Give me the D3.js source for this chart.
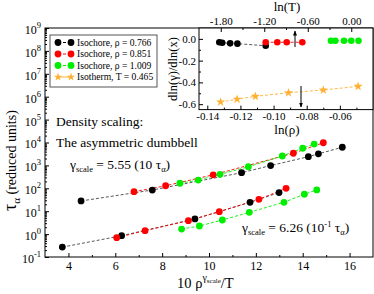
<!DOCTYPE html>
<html>
<head>
<meta charset="utf-8">
<script src="https://cdn.jsdelivr.net/npm/d3@7"></script>
<style>
  body { margin: 0; background: #fff; }
  svg { display: block; font-family: "Liberation Serif", "DejaVu Serif", serif; }
</style>
</head>
<body>
<div id="chart"></div>
<script>
const width = 374;
const height = 294;

// main panel data: 10*rho^gamma/T vs tau_alpha
const upperBlackX = [4.54, 7.58, 11.39, 12.63, 14.24, 14.67, 15.69];
const upperBlackY = [28, 84, 480, 980, 2400, 3200, 6200];
const upperRedX = [6.80, 8.15, 10.18, 13.60, 14.88];
const upperRedY = [71, 129, 389, 3390, 9770];
const upperGreenX = [8.76, 9.54, 10.47, 11.68, 13.13, 14.0, 14.49];
const upperGreenY = [166, 229, 407, 871, 2570, 5620, 8510];

const lowerBlackX = [3.74, 6.27, 9.40, 11.75, 12.99];
const lowerBlackY = [0.27, 0.85, 4.6, 24.5, 65];
const lowerRedX = [6.06, 7.27, 9.12, 10.44, 12.13, 13.29];
const lowerRedY = [0.70, 1.41, 3.85, 9.5, 33, 100];
const lowerGreenX = [8.83, 9.59, 10.57, 11.72, 13.2, 14.07, 14.6];
const lowerGreenY = [1.66, 2.26, 4.13, 8.9, 24.5, 55, 85];

// inset data
const insetBlackLnT = [-1.82, -1.78, -1.67, -1.57, -1.18];
const insetBlackSlope = [-0.031, -0.035, -0.041, -0.044, -0.063];
const insetRedLnT = [-1.18, -1.02, -0.89, -0.675];
const insetRedSlope = [-0.031, -0.031, -0.031, -0.031];
const insetGreenLnT = [-0.28, -0.22, -0.10, 0.0, 0.10];
const insetGreenSlope = [-0.017, -0.017, -0.017, -0.017, -0.017];
const insetOrangeLnRho = [-0.132, -0.122, -0.111, -0.091, -0.070, -0.049];
const insetOrangeSlope = [-0.580, -0.555, -0.528, -0.495, -0.470, -0.436];

const legendLabels = ["Isochore, \u03c1 = 0.766", "Isochore, \u03c1 = 0.851", "Isochore, \u03c1 = 1.009", "Isotherm, T = 0.465"];
const xTicks = [4, 6, 8, 10, 12, 14, 16];
const yTicks = [1e-1, 1e0, 1e1, 1e2, 1e3, 1e4, 1e5, 1e6, 1e7, 1e8, 1e9];

const BLACK = "#000000", RED = "#ff0000", GREEN = "#00ee00", ORANGE = "#ffb030";

const svg = d3.select("#chart").append("svg")
  .attr("width", width)
  .attr("height", height);

// ---- main panel ----
const m = { left: 45, right: 373, top: 28, bottom: 257 };

const x = d3.scaleLinear().domain([3, 17]).range([m.left, m.right]);
const y = d3.scaleLog().domain([0.1, 1e9]).range([m.bottom, m.top]);

svg.append("rect")
  .attr("x", m.left).attr("y", m.top)
  .attr("width", m.right - m.left).attr("height", m.bottom - m.top)
  .attr("fill", "none").attr("stroke", "#000").attr("stroke-width", 1);

// minor log ticks
const yMinor = [];
for (let e = -1; e < 9; e++) for (let k = 2; k <= 9; k++) yMinor.push(k * Math.pow(10, e));

svg.append("g")
  .attr("transform", `translate(${m.left},0)`)
  .call(d3.axisLeft(y).tickValues(yMinor).tickSize(-2).tickFormat(""))
  .call(g => g.select(".domain").remove());

const yAxis = svg.append("g")
  .attr("transform", `translate(${m.left},0)`)
  .call(d3.axisLeft(y).tickValues(yTicks).tickSize(-4).tickPadding(4))
  .call(g => g.select(".domain").remove());

yAxis.selectAll(".tick text")
  .attr("font-family", "Liberation Serif").attr("font-size", 12).attr("fill", "#000")
  .each(function(d) {
    const t = d3.select(this);
    t.text(null).attr("dy", "0.45em");
    t.append("tspan").text("10");
    t.append("tspan").attr("dy", -6).attr("font-size", 8.5).text(Math.round(Math.log10(d)));
  });

svg.append("g")
  .attr("transform", `translate(0,${m.bottom})`)
  .call(d3.axisBottom(x).tickValues([5, 7, 9, 11, 13, 15]).tickSize(-2).tickFormat(""))
  .call(g => g.select(".domain").remove());

svg.append("g")
  .attr("transform", `translate(0,${m.bottom})`)
  .call(d3.axisBottom(x).tickValues(xTicks).tickSize(-4).tickPadding(4))
  .call(g => g.select(".domain").remove())
  .call(g => g.selectAll(".tick text")
    .attr("font-family", "Liberation Serif").attr("font-size", 12).attr("fill", "#000"));

svg.selectAll(".tick line").attr("stroke", "#000");

// series
const mainSeries = [
  { xs: upperBlackX, ys: upperBlackY, c: BLACK },
  { xs: upperRedX, ys: upperRedY, c: RED },
  { xs: upperGreenX, ys: upperGreenY, c: GREEN },
  { xs: lowerBlackX, ys: lowerBlackY, c: BLACK },
  { xs: lowerRedX, ys: lowerRedY, c: RED },
  { xs: lowerGreenX, ys: lowerGreenY, c: GREEN }
];

const line = d3.line().x(d => x(d[0])).y(d => y(d[1]));

mainSeries.forEach(s => {
  const pts = s.xs.map((v, i) => [v, s.ys[i]]);
  svg.append("path")
    .attr("d", line(pts))
    .attr("fill", "none")
    .attr("stroke", s.c === BLACK ? "#444" : s.c)
    .attr("stroke-width", 0.9)
    .attr("stroke-dasharray", "3,2");
});
mainSeries.forEach(s => {
  svg.selectAll(null)
    .data(s.xs.map((v, i) => [v, s.ys[i]]))
    .join("circle")
    .attr("cx", d => x(d[0]))
    .attr("cy", d => y(d[1]))
    .attr("r", 3.4)
    .attr("fill", s.c);
});

// legend
const leg = svg.append("g");
leg.append("rect")
  .attr("x", 50).attr("y", 35).attr("width", 107).attr("height", 52)
  .attr("fill", "#fff").attr("stroke", "#555").attr("stroke-width", 1);
const legColors = [BLACK, RED, GREEN, ORANGE];
legendLabels.forEach((lab, i) => {
  const ly = 42.5 + i * 11.5;
  leg.append("line")
    .attr("x1", 58).attr("x2", 71).attr("y1", ly).attr("y2", ly)
    .attr("stroke", legColors[i]).attr("stroke-width", 1)
    .attr("stroke-dasharray", i === 3 ? null : "3,2");
  [58, 71].forEach(lx => {
    if (i === 3) {
      leg.append("path")
        .attr("d", d3.symbol(d3.symbolStar, 22)())
        .attr("transform", `translate(${lx},${ly})`)
        .attr("fill", ORANGE);
    } else {
      leg.append("circle").attr("cx", lx).attr("cy", ly).attr("r", 3.4).attr("fill", legColors[i]);
    }
  });
  leg.append("text")
    .attr("x", 77).attr("y", ly + 3.3)
    .attr("font-size", 9.6)
    .text(lab);
});

// annotations
svg.append("text").attr("x", 56).attr("y", 126).attr("font-size", 13.5).text("Density scaling:");
svg.append("text").attr("x", 56).attr("y", 147).attr("font-size", 13.5).text("The asymmetric dumbbell");

const ann1 = svg.append("text").attr("x", 70).attr("y", 169).attr("font-size", 13.5);
ann1.append("tspan").text("\u03b3");
ann1.append("tspan").attr("dy", 3).attr("font-size", 8.5).text("scale");
ann1.append("tspan").attr("dy", -3).text(" = 5.55 (10 \u03c4");
ann1.append("tspan").attr("dy", 3).attr("font-size", 8.5).text("\u03b1");
ann1.append("tspan").attr("dy", -3).text(")");

const ann2 = svg.append("text").attr("x", 242).attr("y", 232).attr("font-size", 13.5);
ann2.append("tspan").text("\u03b3");
ann2.append("tspan").attr("dy", 3).attr("font-size", 8.5).text("scale");
ann2.append("tspan").attr("dy", -3).text(" = 6.26 (10");
ann2.append("tspan").attr("dy", -5).attr("font-size", 8.5).text("-1");
ann2.append("tspan").attr("dy", 5).text(" \u03c4");
ann2.append("tspan").attr("dy", 3).attr("font-size", 8.5).text("\u03b1");
ann2.append("tspan").attr("dy", -3).text(")");

// axis titles
const yTitle = svg.append("text")
  .attr("transform", "translate(16,211) rotate(-90)")
  .attr("font-size", 14);
yTitle.append("tspan").attr("font-size", 18).text("\u03c4");
yTitle.append("tspan").attr("dy", 4).attr("font-size", 11).text("\u03b1");
yTitle.append("tspan").attr("dy", -4).text(" (reduced units)");

const xTitle = svg.append("text").attr("x", 177).attr("y", 288).attr("font-size", 14.5);
xTitle.append("tspan").text("10 \u03c1");
xTitle.append("tspan").attr("dy", -7).attr("font-size", 10).text("\u03b3");
xTitle.append("tspan").attr("dy", 2).attr("font-size", 7).text("scale");
xTitle.append("tspan").attr("dy", 5).text("/T");

// ---- inset ----
const n = { left: 199, right: 373, top: 28, bottom: 109.6 };
const xT = d3.scaleLinear().domain([-2.1, 0.3]).range([n.left, n.right]);
const xR = d3.scaleLinear().domain([-0.145, -0.04]).range([n.left, n.right]);
const yI = d3.scaleLinear().domain([-0.65, 0.1]).range([n.bottom, n.top]);

svg.append("rect")
  .attr("x", n.left).attr("y", n.top)
  .attr("width", n.right - n.left).attr("height", n.bottom - n.top)
  .attr("fill", "#fff").attr("stroke", "#000").attr("stroke-width", 1);

const inset = svg.append("g");
const styleText = g => g.selectAll(".tick text")
  .attr("font-family", "Liberation Serif").attr("font-size", 11).attr("fill", "#000");

inset.append("g").attr("transform", `translate(${n.left},0)`)
  .call(d3.axisLeft(yI).tickValues([-0.5, -0.3, -0.1]).tickSize(-2).tickFormat(""))
  .call(g => g.select(".domain").remove());
inset.append("g").attr("transform", `translate(${n.left},0)`)
  .call(d3.axisLeft(yI).tickValues([0, -0.2, -0.4, -0.6]).tickSize(-4).tickPadding(3).tickFormat(d3.format(".1f")))
  .call(g => g.select(".domain").remove())
  .call(styleText)
  .call(g => g.selectAll(".tick text").text(d => d3.format(".1f")(d).replace("\u2212", "-")));

inset.append("g").attr("transform", `translate(0,${n.top})`)
  .call(d3.axisTop(xT).tickValues([-1.5, -0.9, -0.3]).tickSize(-2).tickFormat(""))
  .call(g => g.select(".domain").remove());
inset.append("g").attr("transform", `translate(0,${n.top})`)
  .call(d3.axisTop(xT).tickValues([-1.8, -1.2, -0.6, 0]).tickSize(-4).tickPadding(3))
  .call(g => g.select(".domain").remove())
  .call(styleText)
  .call(g => g.selectAll(".tick text").text(d => d3.format(".2f")(d).replace("\u2212", "-")));

inset.append("g").attr("transform", `translate(0,${n.bottom})`)
  .call(d3.axisBottom(xR).tickValues([-0.13, -0.11, -0.09, -0.07, -0.05]).tickSize(-2).tickFormat(""))
  .call(g => g.select(".domain").remove());
inset.append("g").attr("transform", `translate(0,${n.bottom})`)
  .call(d3.axisBottom(xR).tickValues([-0.14, -0.12, -0.10, -0.08, -0.06]).tickSize(-4).tickPadding(3))
  .call(g => g.select(".domain").remove())
  .call(styleText)
  .call(g => g.selectAll(".tick text").text(d => d3.format(".2f")(d).replace("\u2212", "-")));

inset.selectAll(".tick line").attr("stroke", "#000");

const insetSeries = [
  { xs: insetBlackLnT, ys: insetBlackSlope, c: BLACK, sx: xT },
  { xs: insetRedLnT, ys: insetRedSlope, c: RED, sx: xT },
  { xs: insetGreenLnT, ys: insetGreenSlope, c: GREEN, sx: xT },
  { xs: insetOrangeLnRho, ys: insetOrangeSlope, c: ORANGE, sx: xR }
];
insetSeries.forEach(s => {
  const l = d3.line().x(d => s.sx(d[0])).y(d => yI(d[1]));
  const pts = s.xs.map((v, i) => [v, s.ys[i]]);
  inset.append("path")
    .attr("d", l(pts))
    .attr("fill", "none")
    .attr("stroke", s.c === BLACK ? "#444" : s.c)
    .attr("stroke-width", 0.9)
    .attr("stroke-dasharray", "3,2");
});
insetSeries.forEach(s => {
  const pts = s.xs.map((v, i) => [v, s.ys[i]]);
  if (s.c === ORANGE) {
    inset.selectAll(null).data(pts).join("path")
      .attr("d", d3.symbol(d3.symbolStar, 26)())
      .attr("transform", d => `translate(${s.sx(d[0])},${yI(d[1])})`)
      .attr("fill", ORANGE);
  } else {
    inset.selectAll(null).data(pts).join("circle")
      .attr("cx", d => s.sx(d[0])).attr("cy", d => yI(d[1]))
      .attr("r", 3.3).attr("fill", s.c);
  }
});

// arrows pointing to the axis each set belongs to
svg.append("defs").append("marker")
  .attr("id", "arrow").attr("viewBox", "0 0 10 10")
  .attr("refX", 9).attr("refY", 5)
  .attr("markerWidth", 5).attr("markerHeight", 5)
  .attr("orient", "auto")
  .append("path").attr("d", "M0,1 L10,5 L0,9 z").attr("fill", "#000");

inset.append("line")
  .attr("x1", 295).attr("x2", 295).attr("y1", 47).attr("y2", 31)
  .attr("stroke", "#000").attr("stroke-width", 1).attr("marker-end", "url(#arrow)");
inset.append("line")
  .attr("x1", 301).attr("x2", 301).attr("y1", 86).attr("y2", 107)
  .attr("stroke", "#000").attr("stroke-width", 1).attr("marker-end", "url(#arrow)");

// inset titles
svg.append("text").attr("x", 287).attr("y", 11).attr("text-anchor", "middle")
  .attr("font-size", 13).text("ln(T)");
svg.append("text").attr("x", 287).attr("y", 134).attr("text-anchor", "middle")
  .attr("font-size", 13).text("ln(\u03c1)");
svg.append("text").attr("transform", "translate(177,69) rotate(-90)")
  .attr("text-anchor", "middle").attr("font-size", 12.5).text("dln(\u03b3)/dln(x)");
</script>
</body>
</html>
